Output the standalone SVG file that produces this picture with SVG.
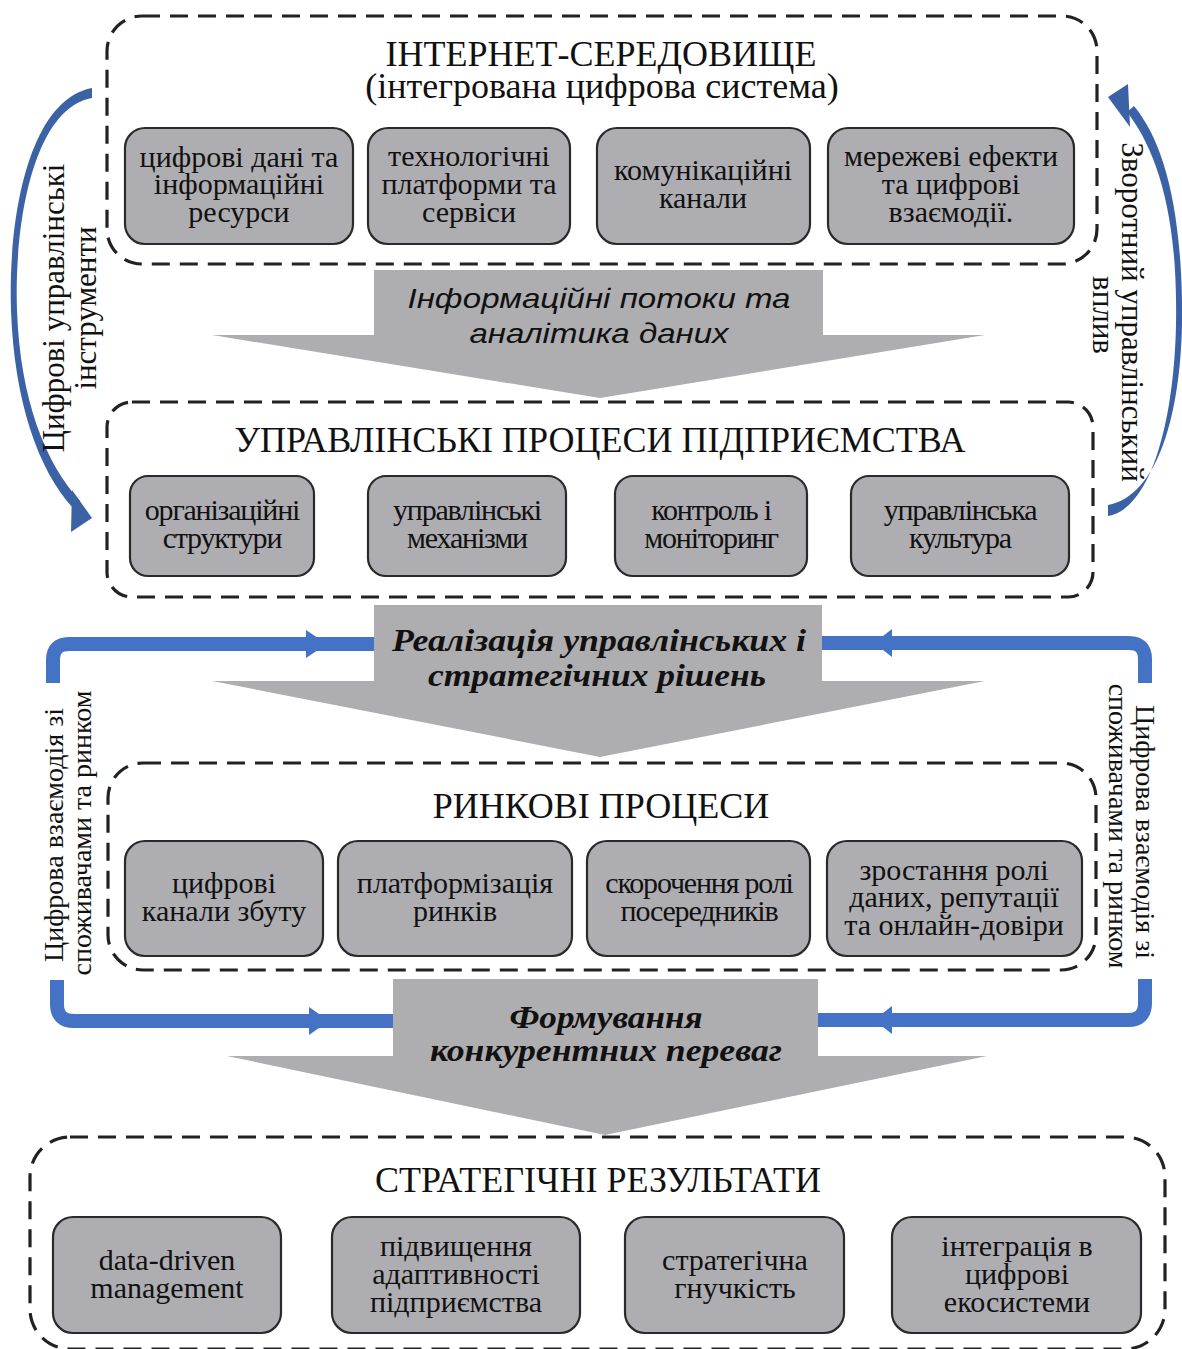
<svg xmlns="http://www.w3.org/2000/svg" width="1182" height="1349" viewBox="0 0 1182 1349">
<style>
.cont{fill:none;stroke:#222;stroke-width:3.2;stroke-dasharray:18 10}
.box{fill:#AEADB1;stroke:#2a2a2a;stroke-width:2.2}
.title{font-family:"Liberation Serif",serif;font-size:36px;fill:#111;text-anchor:middle}
.bt{font-family:"Liberation Serif",serif;font-size:30px;fill:#111;text-anchor:middle}
.bt2{font-family:"Liberation Serif",serif;font-size:30px;fill:#111;text-anchor:middle;letter-spacing:-1.2px}
.garrow{fill:#AEADB0}
.si{font-family:"Liberation Sans",sans-serif;font-style:italic;font-size:28px;fill:#111;text-anchor:middle}
.bi{font-family:"Liberation Serif",serif;font-style:italic;font-weight:bold;font-size:32px;fill:#111;text-anchor:middle}
.rot{font-family:"Liberation Serif",serif;font-size:31px;fill:#111;text-anchor:middle}
.rot2{font-family:"Liberation Serif",serif;font-size:28px;fill:#111;text-anchor:middle}
.loop{fill:none;stroke:#4472C4;stroke-width:14}
.loophead{fill:#4472C4}
.curve{fill:#3C62A6}
</style>

<!-- Gray flow arrows -->
<g id="flow1">
<polygon class="garrow" points="374,270 823,270 823,335 985,335 600,398 212,335 374,335"/>
<text class="si" x="599" y="308" textLength="383" lengthAdjust="spacingAndGlyphs">Інформаційні потоки та</text>
<text class="si" x="599" y="343" textLength="259" lengthAdjust="spacingAndGlyphs">аналітика даних</text>
</g>
<g id="flow2">
<polygon class="garrow" points="374,605 822,605 822,681 985,681 600,757 212,681 374,681"/>
<text class="bi" x="599" y="651" textLength="414" lengthAdjust="spacingAndGlyphs">Реалізація управлінських і</text>
<text class="bi" x="597" y="686" textLength="338" lengthAdjust="spacingAndGlyphs">стратегічних рішень</text>
</g>
<g id="flow3">
<polygon class="garrow" points="393,979 818,979 818,1056 987,1056 605,1135 227,1056 393,1056"/>
<text class="bi" x="606" y="1028" textLength="193" lengthAdjust="spacingAndGlyphs">Формування</text>
<text class="bi" x="606" y="1061" textLength="352" lengthAdjust="spacingAndGlyphs">конкурентних переваг</text>
</g>

<!-- Connectors -->
<g id="connectors">
<path class="curve" d="M92,88 C28,100 8,220 11,310 C14,400 38,470 73,508 L80,501 C46,464 20,400 17,310 C14,222 34,108 92,98 Z"/>
<polygon class="curve" points="72,490 92,518 71,532"/>
<path class="curve" d="M1108,505 C1162,495 1184,400 1182,300 C1180,200 1162,140 1134,106 L1127,112 C1152,144 1175,200 1176,300 C1178,400 1156,508 1108,516 Z"/>
<polygon class="curve" points="1108,97 1128,84 1130,127"/>

<path class="loop" d="M53,683 V660 Q53,644 69,644 H374"/>
<polygon class="loophead" points="306,630 327,644 306,658"/>
<path class="loop" d="M1145,683 V659 Q1145,643 1129,643 H822"/>
<polygon class="loophead" points="892,629 874,643 892,657"/>
<path class="loop" d="M57,980 V1004 Q57,1021 74,1021 H393"/>
<polygon class="loophead" points="309,1007 329,1021 309,1035"/>
<path class="loop" d="M1145,979 V1003 Q1145,1020 1128,1020 H818"/>
<polygon class="loophead" points="892,1006 874,1020 892,1034"/>

<text class="rot" transform="translate(64,308) rotate(-90)">Цифрові управлінські</text>
<text class="rot" transform="translate(96,308) rotate(-90)">інструменти</text>
<text class="rot" transform="translate(1122,312) rotate(90)">Зворотний управлінський</text>
<text class="rot" transform="translate(1093,315) rotate(90)">вплив</text>
<text class="rot2" transform="translate(63,835) rotate(-90)">Цифрова взаємодія зі</text>
<text class="rot2" transform="translate(91,833) rotate(-90)">споживачами та ринком</text>
<text class="rot2" transform="translate(1136,832) rotate(90)">Цифрова взаємодія зі</text>
<text class="rot2" transform="translate(1109,826) rotate(90)">споживачами та ринком</text>
</g>

<!-- Container 1 -->
<g id="internet">
<rect class="cont" x="107" y="16" width="990" height="248" rx="35"/>
<text class="title" x="601" y="66">ІНТЕРНЕТ-СЕРЕДОВИЩЕ</text>
<text class="title" x="602" y="98">(інтегрована цифрова система)</text>
</g>
<g id="n1a"><rect class="box" x="125" y="128" width="228" height="116" rx="20"/>
<text class="bt" x="239" y="167">цифрові дані та</text><text class="bt" x="239" y="194">інформаційні</text><text class="bt" x="239" y="222">ресурси</text></g>
<g id="n1b"><rect class="box" x="368" y="128" width="202" height="116" rx="20"/>
<text class="bt" x="469" y="166">технологічні</text><text class="bt" x="469" y="194">платформи та</text><text class="bt" x="469" y="222">сервіси</text></g>
<g id="n1c"><rect class="box" x="597" y="128" width="213" height="116" rx="20"/>
<text class="bt" x="703" y="180">комунікаційні</text><text class="bt" x="703" y="208">канали</text></g>
<g id="n1d"><rect class="box" x="828" y="128" width="246" height="116" rx="20"/>
<text class="bt" x="951" y="166">мережеві ефекти</text><text class="bt" x="951" y="194">та цифрові</text><text class="bt" x="951" y="222">взаємодії.</text></g>

<!-- Container 2 -->
<g id="management">
<rect class="cont" x="107" y="402" width="986" height="195" rx="25"/>
<text class="title" x="600" y="452">УПРАВЛІНСЬКІ ПРОЦЕСИ ПІДПРИЄМСТВА</text>
</g>
<g id="n2a"><rect class="box" x="130" y="476" width="184" height="100" rx="18"/>
<text class="bt2" x="222" y="520">організаційні</text><text class="bt2" x="222" y="548">структури</text></g>
<g id="n2b"><rect class="box" x="368" y="476" width="198" height="100" rx="18"/>
<text class="bt2" x="467" y="520">управлінські</text><text class="bt2" x="467" y="548">механізми</text></g>
<g id="n2c"><rect class="box" x="615" y="476" width="192" height="100" rx="18"/>
<text class="bt2" x="711" y="520">контроль і</text><text class="bt2" x="711" y="548">моніторинг</text></g>
<g id="n2d"><rect class="box" x="851" y="476" width="218" height="100" rx="18"/>
<text class="bt2" x="960" y="520">управлінська</text><text class="bt2" x="960" y="548">культура</text></g>

<!-- Container 3 -->
<g id="market">
<rect class="cont" x="108" y="763" width="988" height="207" rx="35"/>
<text class="title" x="601" y="818">РИНКОВІ ПРОЦЕСИ</text>
</g>
<g id="n3a"><rect class="box" x="125" y="841" width="198" height="115" rx="20"/>
<text class="bt" x="224" y="893">цифрові</text><text class="bt" x="224" y="921">канали збуту</text></g>
<g id="n3b"><rect class="box" x="338" y="841" width="234" height="115" rx="20"/>
<text class="bt" x="455" y="893">платформізація</text><text class="bt" x="455" y="921">ринків</text></g>
<g id="n3c"><rect class="box" x="587" y="841" width="223" height="115" rx="20"/>
<text class="bt2" x="699" y="893">скорочення ролі</text><text class="bt2" x="699" y="921">посередників</text></g>
<g id="n3d"><rect class="box" x="827" y="841" width="255" height="115" rx="20"/>
<text class="bt" x="954" y="880">зростання ролі</text><text class="bt" x="954" y="907">даних, репутації</text><text class="bt" x="954" y="935">та онлайн-довіри</text></g>

<!-- Container 4 -->
<g id="results">
<rect class="cont" x="30" y="1137" width="1135" height="212" rx="40"/>
<text class="title" x="598" y="1192">СТРАТЕГІЧНІ РЕЗУЛЬТАТИ</text>
</g>
<g id="n4a"><rect class="box" x="53" y="1217" width="228" height="116" rx="20"/>
<text class="bt" x="167" y="1270">data-driven</text><text class="bt" x="167" y="1298">management</text></g>
<g id="n4b"><rect class="box" x="332" y="1217" width="248" height="116" rx="20"/>
<text class="bt" x="456" y="1256">підвищення</text><text class="bt" x="456" y="1284">адаптивності</text><text class="bt" x="456" y="1312">підприємства</text></g>
<g id="n4c"><rect class="box" x="625" y="1217" width="219" height="116" rx="20"/>
<text class="bt" x="735" y="1270">стратегічна</text><text class="bt" x="735" y="1298">гнучкість</text></g>
<g id="n4d"><rect class="box" x="892" y="1217" width="249" height="116" rx="20"/>
<text class="bt" x="1017" y="1256">інтеграція в</text><text class="bt" x="1017" y="1284">цифрові</text><text class="bt" x="1017" y="1312">екосистеми</text></g>
</svg>
